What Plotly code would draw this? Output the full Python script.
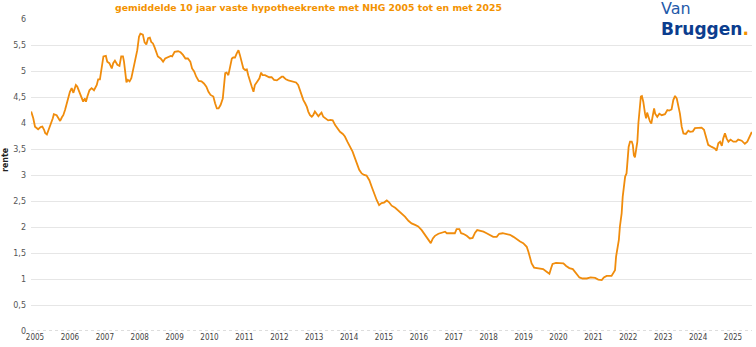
import plotly.graph_objects as go

# Gemiddelde 10 jaar vaste hypotheekrente met NHG (decimaal jaartal, rente in %)
jaar = [
    2004.89, 2004.95, 2005.00, 2005.09, 2005.16, 2005.21, 2005.26, 2005.29, 2005.34, 2005.40,
    2005.45, 2005.51, 2005.54, 2005.62, 2005.67, 2005.72, 2005.77, 2005.81, 2005.86, 2005.91,
    2005.95, 2006.00, 2006.05, 2006.10, 2006.14, 2006.17, 2006.21, 2006.25, 2006.29, 2006.34,
    2006.38, 2006.43, 2006.46, 2006.50, 2006.56, 2006.62, 2006.69, 2006.77, 2006.81, 2006.86,
    2006.91, 2006.96, 2007.03, 2007.07, 2007.13, 2007.20, 2007.24, 2007.29, 2007.36, 2007.42,
    2007.47, 2007.52, 2007.55, 2007.59, 2007.62, 2007.66, 2007.71, 2007.76, 2007.81, 2007.87,
    2007.93, 2007.98, 2008.02, 2008.09, 2008.14, 2008.19, 2008.24, 2008.29, 2008.33, 2008.38,
    2008.43, 2008.48, 2008.52, 2008.60, 2008.67, 2008.73, 2008.81, 2008.89, 2008.93, 2009.00,
    2009.10, 2009.17, 2009.24, 2009.31, 2009.38, 2009.45, 2009.50, 2009.56, 2009.62, 2009.69,
    2009.77, 2009.84, 2009.91, 2009.97, 2010.03, 2010.11, 2010.16, 2010.21, 2010.26, 2010.32,
    2010.38, 2010.42, 2010.45, 2010.49, 2010.54, 2010.59, 2010.64, 2010.68, 2010.73, 2010.78,
    2010.83, 2010.87, 2010.92, 2010.97, 2011.02, 2011.07, 2011.11, 2011.16, 2011.21, 2011.26,
    2011.30, 2011.37, 2011.43, 2011.48, 2011.52, 2011.59, 2011.64, 2011.71, 2011.78, 2011.85,
    2011.93, 2012.00, 2012.07, 2012.11, 2012.19, 2012.26, 2012.33, 2012.40, 2012.48, 2012.54,
    2012.59, 2012.64, 2012.69, 2012.74, 2012.79, 2012.83, 2012.88, 2012.93, 2012.97, 2013.02,
    2013.07, 2013.12, 2013.17, 2013.21, 2013.26, 2013.34, 2013.40, 2013.47, 2013.53, 2013.60,
    2013.66, 2013.74, 2013.82, 2013.88, 2013.95, 2014.03, 2014.10, 2014.17, 2014.23, 2014.29,
    2014.36, 2014.43, 2014.50, 2014.58, 2014.65, 2014.71, 2014.79, 2014.86, 2014.93, 2015.00,
    2015.08, 2015.14, 2015.22, 2015.32, 2015.41, 2015.51, 2015.60, 2015.70, 2015.79, 2015.89,
    2015.98, 2016.08, 2016.17, 2016.27, 2016.34, 2016.40, 2016.46, 2016.56, 2016.65, 2016.75,
    2016.80, 2016.87, 2016.97, 2017.03, 2017.08, 2017.16, 2017.21, 2017.27, 2017.37, 2017.46,
    2017.54, 2017.61, 2017.67, 2017.75, 2017.85, 2017.94, 2018.04, 2018.13, 2018.23, 2018.30,
    2018.40, 2018.52, 2018.61, 2018.71, 2018.80, 2018.90, 2018.99, 2019.09, 2019.14, 2019.18,
    2019.23, 2019.30, 2019.38, 2019.47, 2019.56, 2019.66, 2019.74, 2019.79, 2019.83, 2019.93,
    2020.04, 2020.14, 2020.22, 2020.31, 2020.41, 2020.50, 2020.60, 2020.69, 2020.81, 2020.92,
    2021.05, 2021.14, 2021.24, 2021.30, 2021.38, 2021.52, 2021.57, 2021.62, 2021.65, 2021.69,
    2021.73, 2021.76, 2021.81, 2021.84, 2021.88, 2021.91, 2021.95, 2021.98, 2022.01, 2022.05,
    2022.10, 2022.13, 2022.16, 2022.19, 2022.22, 2022.26, 2022.29, 2022.32, 2022.36, 2022.39,
    2022.43, 2022.48, 2022.51, 2022.54, 2022.58, 2022.62, 2022.66, 2022.70, 2022.74, 2022.77,
    2022.83, 2022.89, 2022.96, 2023.05, 2023.12, 2023.17, 2023.24, 2023.29, 2023.34, 2023.39,
    2023.43, 2023.48, 2023.53, 2023.58, 2023.65, 2023.72, 2023.77, 2023.85, 2023.91, 2024.01,
    2024.10, 2024.17, 2024.23, 2024.29, 2024.39, 2024.48, 2024.53, 2024.58, 2024.63, 2024.68,
    2024.72, 2024.77, 2024.82, 2024.87, 2024.93, 2025.01, 2025.09, 2025.15, 2025.25, 2025.34,
    2025.41, 2025.47, 2025.54,
]

rente = [
    4.22, 4.09, 3.93, 3.88, 3.92, 3.93, 3.87, 3.81, 3.78, 3.87,
    3.98, 4.09, 4.17, 4.15, 4.09, 4.04, 4.11, 4.15, 4.25, 4.38,
    4.51, 4.60, 4.67, 4.58, 4.67, 4.73, 4.70, 4.63, 4.60, 4.51,
    4.41, 4.47, 4.41, 4.51, 4.63, 4.67, 4.63, 4.73, 4.84, 4.84,
    5.08, 5.28, 5.29, 5.18, 5.15, 5.05, 5.15, 5.20, 5.12, 5.10,
    5.28, 5.28, 5.18, 4.99, 4.78, 4.83, 4.80, 4.86, 5.05, 5.21,
    5.40, 5.66, 5.72, 5.70, 5.55, 5.51, 5.63, 5.64, 5.56, 5.53,
    5.45, 5.37, 5.28, 5.24, 5.18, 5.24, 5.26, 5.29, 5.28, 5.37,
    5.38, 5.36, 5.31, 5.24, 5.24, 5.18, 5.05, 4.99, 4.89, 4.81,
    4.80, 4.76, 4.70, 4.60, 4.54, 4.51, 4.38, 4.28, 4.28, 4.35,
    4.47, 4.70, 4.96, 4.97, 4.92, 5.08, 5.24, 5.26, 5.26, 5.34,
    5.40, 5.31, 5.15, 5.05, 5.02, 5.03, 4.92, 4.83, 4.70, 4.60,
    4.73, 4.80, 4.86, 4.97, 4.92, 4.92, 4.90, 4.88, 4.88, 4.83,
    4.82, 4.85, 4.89, 4.89, 4.84, 4.82, 4.81, 4.80, 4.78, 4.73,
    4.63, 4.54, 4.44, 4.38, 4.31, 4.22, 4.15, 4.12, 4.15, 4.22,
    4.18, 4.13, 4.17, 4.20, 4.12, 4.07, 4.05, 4.06, 4.05, 3.96,
    3.90, 3.83, 3.79, 3.74, 3.64, 3.54, 3.45, 3.32, 3.19, 3.10,
    3.03, 3.00, 2.99, 2.90, 2.77, 2.65, 2.52, 2.42, 2.46, 2.47,
    2.51, 2.48, 2.41, 2.37, 2.32, 2.26, 2.20, 2.12, 2.07, 2.04,
    2.01, 1.94, 1.85, 1.75, 1.69, 1.78, 1.83, 1.87, 1.89, 1.91,
    1.88, 1.88, 1.88, 1.88, 1.96, 1.96, 1.88, 1.87, 1.83, 1.78,
    1.79, 1.89, 1.94, 1.93, 1.91, 1.88, 1.85, 1.81, 1.81, 1.87,
    1.88, 1.87, 1.85, 1.81, 1.76, 1.72, 1.69, 1.62, 1.52, 1.40,
    1.30, 1.22, 1.21, 1.20, 1.19, 1.14, 1.10, 1.21, 1.29, 1.31,
    1.31, 1.30, 1.25, 1.21, 1.19, 1.12, 1.03, 1.01, 1.01, 1.03,
    1.02, 0.99, 0.98, 1.03, 1.06, 1.06, 1.11, 1.17, 1.43, 1.62,
    1.75, 2.01, 2.26, 2.58, 2.77, 2.97, 3.03, 3.22, 3.54, 3.64,
    3.64, 3.58, 3.38, 3.34, 3.51, 3.64, 4.00, 4.25, 4.51, 4.52,
    4.41, 4.18, 4.09, 4.20, 4.09, 4.03, 3.99, 4.12, 4.28, 4.18,
    4.12, 4.18, 4.15, 4.17, 4.25, 4.24, 4.26, 4.44, 4.52, 4.47,
    4.35, 4.18, 3.93, 3.80, 3.79, 3.85, 3.83, 3.84, 3.90, 3.90,
    3.91, 3.87, 3.74, 3.58, 3.54, 3.51, 3.47, 3.61, 3.64, 3.56,
    3.70, 3.80, 3.70, 3.64, 3.68, 3.64, 3.64, 3.68, 3.66, 3.60,
    3.64, 3.74, 3.83,
]

jaar_ticks = list(range(2005, 2026))
jaar_labels = [str(j) for j in jaar_ticks]
rente_ticks = [0, 0.5, 1, 1.5, 2, 2.5, 3, 3.5, 4, 4.5, 5, 5.5, 6]
rente_labels = ["0", "0,5", "1", "1,5", "2", "2,5", "3", "3,5", "4", "4,5", "5", "5,5", "6"]

ORANJE = "#F39200"

fig = go.Figure()
fig.add_trace(go.Scatter(
    x=jaar, y=rente, mode="lines",
    line=dict(color="#F08C0C", width=1.8),
    hoverinfo="x+y", showlegend=False,
))

fig.update_layout(
    width=756, height=347,
    margin=dict(l=31, r=4, t=19, b=16),
    paper_bgcolor="white", plot_bgcolor="white",
    font=dict(family="DejaVu Sans", size=8, color="#555555"),
    xaxis=dict(
        range=[2004.885, 2025.545],
        tickvals=jaar_ticks, ticktext=jaar_labels,
        tickfont=dict(family="Liberation Sans Narrow, DejaVu Sans Condensed", size=8, color="#444444"),
        showgrid=False, zeroline=False, showline=False, ticks="",
    ),
    yaxis=dict(
        range=[0, 6],
        tickvals=rente_ticks, ticktext=rente_labels,
        tickfont=dict(family="DejaVu Sans", size=8, color="#555555"),
        ticklabelstandoff=4,
        showgrid=True, gridcolor="#E6E6E6", gridwidth=1,
        zeroline=False, showline=False, ticks="",
    ),
    shapes=[
        # gestippelde nullijn
        dict(type="line", xref="paper", yref="y", x0=0, x1=1, y0=0, y1=0,
             line=dict(color="#BBBBBB", width=1.2, dash="dot"), layer="above"),
        # witte achtergrond achter het logo
        dict(type="rect", xref="paper", yref="paper", x0=0.86, x1=1.01, y0=0.985, y1=1.07,
             fillcolor="white", line=dict(width=0), layer="above"),
    ],
    annotations=[
        dict(text="<b>gemiddelde 10 jaar vaste hypotheekrente met NHG 2005 tot en met 2025</b>",
             xref="paper", yref="paper", x=0.385, y=1.037, xanchor="center", yanchor="middle",
             showarrow=False, font=dict(family="DejaVu Sans", size=9.3, color=ORANJE)),
        dict(text="<b>rente</b>", xref="paper", yref="paper", x=-0.036, y=0.548,
             xanchor="center", yanchor="middle", textangle=-90, showarrow=False,
             font=dict(family="DejaVu Sans", size=8, color="#222222")),
        dict(text="Van", xref="paper", yref="paper", x=0.872, y=1.067,
             xanchor="left", yanchor="top", showarrow=False, borderpad=0,
             font=dict(family="DejaVu Sans", size=16, color="#1F5AAA")),
        dict(text="<b>Bruggen</b><span style='color:#F39200'><b>.</b></span>",
             xref="paper", yref="paper", x=0.872, y=1.003,
             xanchor="left", yanchor="top", showarrow=False, borderpad=0,
             font=dict(family="DejaVu Sans", size=17, color="#0B3D8E")),
    ],
)

fig.write_html("out.html")
